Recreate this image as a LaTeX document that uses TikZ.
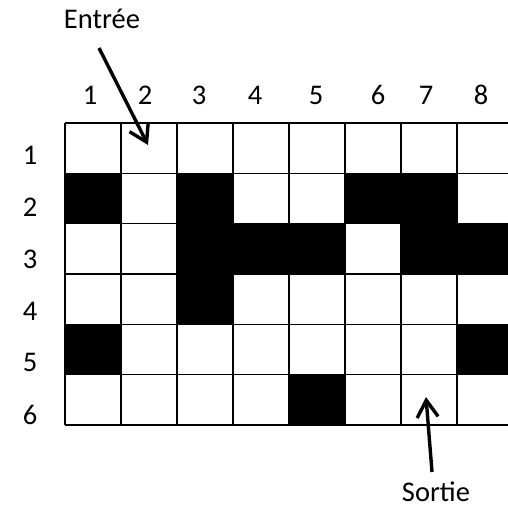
\documentclass[tikz,border=0pt]{standalone}
\usepackage{fontspec}
\setmainfont{Carlito}
\usetikzlibrary{arrows.meta}
\tikzset{
  lbl/.style={inner sep=0pt, anchor=base, font=\fontsize{28.5}{31}\selectfont},
  blk/.style={fill=black},
  gridline/.style={line width=1.6pt},
  bigarrow/.style={line width=3.4pt, -{Straight Barb[length=17pt,width=21pt,line width=3.4pt]}}
}
\begin{document}
\begin{tikzpicture}[x=1pt,y=-1pt]
\useasboundingbox (0,0) rectangle (508,507);
\clip (0,0) rectangle (508,507);
\def\cw{56}\def\rh{50.33}
% black cells: col/row
\foreach \c/\r in {1/2,3/2,6/2,7/2,3/3,4/3,5/3,7/3,8/3,3/4,1/5,8/5,5/6}{
  \fill[blk] ({65+\cw*(\c-1)},{123+\rh*(\r-1)}) rectangle ({65+\cw*\c},{123+\rh*\r});
}
% grid
\foreach \r in {0,...,6}{
  \draw[gridline] (65,{123+\rh*\r}) -- (520,{123+\rh*\r});
}
\foreach \c in {0,...,8}{
  \draw[gridline] ({65+\cw*\c},123) -- ({65+\cw*\c},425);
}
% column labels
\node[lbl] (c1) at (90,104) {1};
\node[lbl] (c2) at (145,104) {2};
\node[lbl] (c3) at (199,104) {3};
\node[lbl] (c4) at (255,104) {4};
\node[lbl] (c5) at (316,104) {5};
\node[lbl] (c6) at (378,104) {6};
\node[lbl] (c7) at (426,104) {7};
\node[lbl] (c8) at (481,104) {8};
% row labels
\node[lbl] (r1) at (30,164.5) {1};
\node[lbl] (r2) at (30,216.5) {2};
\node[lbl] (r3) at (30,268) {3};
\node[lbl] (r4) at (30,320) {4};
\node[lbl] (r5) at (30,371) {5};
\node[lbl] (r6) at (30,424) {6};
% Entree / Sortie
\node[lbl] (entree) at (102,28) {Entrée};
\node[lbl] (sortie) at (436,501) {Sortie};
\coordinate (ea) at (99,48);
\coordinate (eb) at (148,145);
\coordinate (sa) at (432,472);
\coordinate (sb) at (426,397);
\draw[bigarrow] (ea) -- (eb);
\draw[bigarrow] (sa) -- (sb);
\end{tikzpicture}
\end{document}
